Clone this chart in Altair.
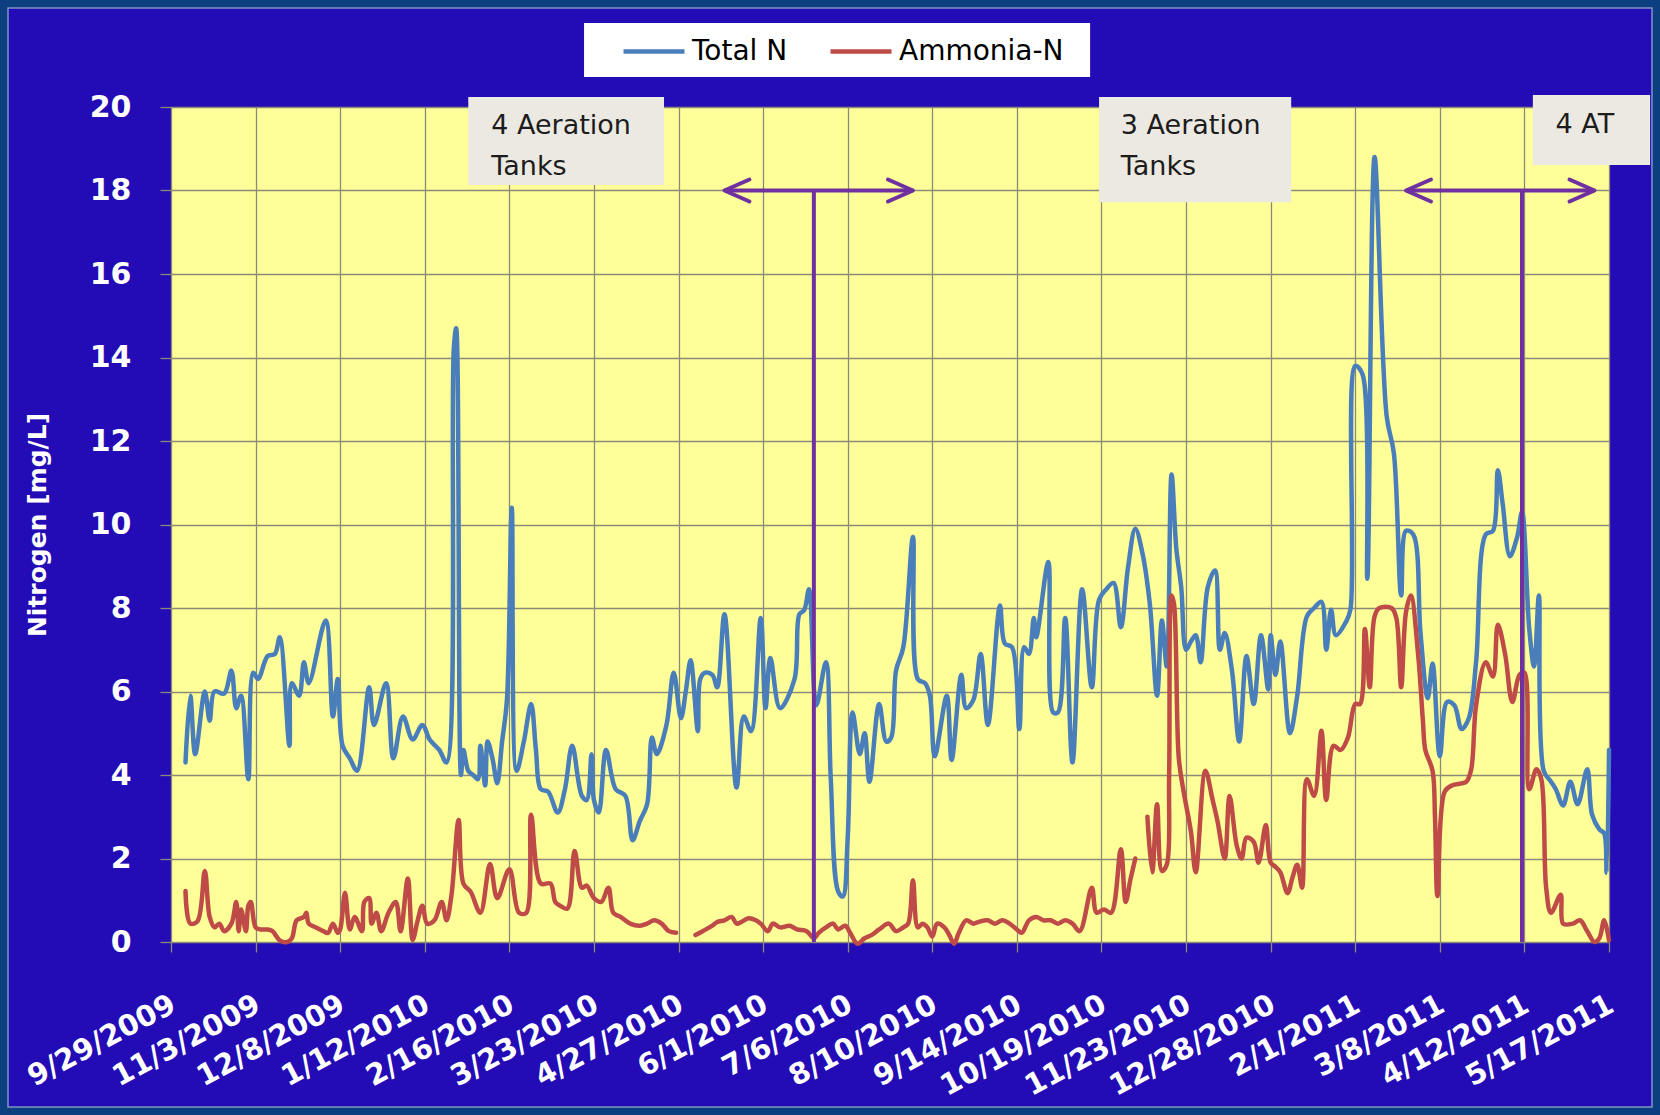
import altair as alt
import pandas as pd

# ---------------------------------------------------------------- data
START_DATE = "2009-09-29"
END_DATE = "2011-05-17"

tick_dates = ["2009-09-29", "2009-11-03", "2009-12-08", "2010-01-12", "2010-02-16",
              "2010-03-23", "2010-04-27", "2010-06-01", "2010-07-06", "2010-08-10",
              "2010-09-14", "2010-10-19", "2010-11-23", "2010-12-28", "2011-02-01",
              "2011-03-08", "2011-04-12", "2011-05-17"]
y_ticks = [0, 2, 4, 6, 8, 10, 12, 14, 16, 18, 20]

# sampling day (days after START_DATE) and concentration, mg/L
total_day = [6, 8, 10, 14, 16, 18, 22, 25, 27, 29, 32, 34, 36, 40, 43, 45, 49, 50, 53, 55,
             57, 64, 67, 69, 71, 74, 77, 82, 84, 89, 92, 96, 100, 104, 107, 111, 114, 117, 118, 120,
             121, 123, 125, 127, 128, 130, 131, 133, 135, 137, 139, 141, 143, 146, 149, 151, 153, 156, 160, 163,
             166, 170, 172, 174, 175, 177, 180, 184, 188, 191, 194, 197, 199, 201, 205, 208, 211, 213, 215, 218,
             219, 221, 224, 226, 229, 234, 237, 240, 244, 246, 248, 252, 258, 260, 262, 264, 267, 271, 273, 276,
             278, 280, 282, 285, 287, 289, 293, 296, 298, 300, 303, 307, 309, 312, 314, 316, 321, 323, 327, 329,
             332, 335, 338, 343, 345, 348, 351, 353, 355, 357, 358, 363, 365, 367, 370, 373, 377, 381, 384, 387,
             390, 393, 396, 399, 402, 405, 408, 410, 412, 414, 416, 418, 420, 422, 424, 426, 429, 432, 434, 436,
             439, 442, 445, 448, 451, 454, 455, 457, 459, 463, 466, 470, 473, 476, 478, 480, 482, 486, 488, 490,
             493, 495, 498, 503, 506, 509, 511, 514, 517, 520, 522, 525, 528, 531, 534, 537, 540, 544, 547, 549,
             551, 554, 557, 559, 562, 564, 566, 568, 571, 573, 576, 579, 582, 586, 588, 591, 593, 594, 595]
total_n = [4.3, 5.9, 4.5, 6.0, 5.3, 6.0, 5.95, 6.5, 5.6, 5.9, 3.9, 6.45, 6.3, 6.85, 6.9, 7.3, 4.7, 6.2, 5.9, 6.7,
           6.2, 7.7, 5.4, 6.3, 4.7, 4.4, 4.1, 6.1, 5.2, 6.2, 4.4, 5.4, 4.85, 5.2, 4.85, 4.6, 4.3, 14.2, 14.7, 4.0,
           4.6, 4.1, 4.0, 3.9, 4.7, 3.75, 4.8, 4.4, 3.8, 4.8, 5.8, 10.4, 4.1, 4.8, 5.7, 4.6, 3.66, 3.6, 3.1, 3.66,
           4.7, 3.5, 3.4, 4.5, 3.4, 3.1, 4.6, 3.66, 3.5, 2.44, 2.9, 3.3, 4.9, 4.5, 5.2, 6.45, 5.36, 6.0, 6.75, 5.05,
           6.3, 6.45, 6.4, 6.1, 7.85, 3.7, 5.4, 5.05, 7.76, 5.6, 6.8, 5.6, 6.3, 7.85, 7.95, 8.45, 5.67, 6.7, 3.9, 1.22,
           1.09, 2.5, 5.5, 4.5, 5.0, 3.84, 5.7, 4.8, 4.9, 6.5, 7.06, 9.7, 6.3, 6.2, 5.9, 4.45, 5.9, 4.36, 6.4, 5.6,
           5.8, 6.9, 5.2, 8.06, 7.15, 7.06, 5.1, 7.06, 6.9, 7.76, 7.3, 9.1, 5.5, 5.5, 7.76, 4.3, 8.45, 6.1, 8.2, 8.45,
           8.6, 7.54, 8.98, 9.9, 9.3, 8.1, 5.9, 7.7, 6.6, 11.2, 9.4, 8.5, 7.0, 7.2, 7.35, 6.7, 8.5, 8.9, 7.0, 7.4,
           6.5, 4.8, 6.85, 5.7, 7.35, 6.05, 7.35, 6.4, 7.2, 5.0, 5.9, 7.8, 8.0, 8.15, 7.0, 7.96, 7.35, 7.65, 7.96, 13.8,
           13.6, 8.7, 18.8, 12.6, 11.7, 8.3, 9.85, 9.76, 7.4, 5.84, 6.67, 4.45, 5.75, 5.67, 5.1, 5.36, 6.7, 9.76, 9.85, 11.3,
           10.5, 9.24, 9.7, 10.3, 7.5, 6.6, 8.3, 4.1, 3.84, 3.66, 3.27, 3.84, 3.3, 4.14, 3.05, 2.7, 2.6, 1.66, 4.6]

# None marks a period without an ammonia result (the line is broken there)
ammonia_day = [6, 8, 11, 14, 16, 18, 20, 22, 25, 27, 28, 29, 31, 32, 33, 35, 37, 40, 42, 45,
               48, 50, 52, 55, 56, 57, 60, 63, 65, 67, 69, 70, 72, 74, 76, 79, 80, 82, 83, 85,
               87, 90, 93, 95, 98, 100, 102, 104, 106, 109, 112, 114, 116, 119, 121, 124, 128, 132, 135, 140,
               144, 147, 149, 153, 157, 159, 161, 164, 167, 170, 172, 175, 178, 181, 183, 186, 190, 194, 197, 200,
               203, 206, 209, 213, 217, 220, 224, 226, 229, 232, 234, 236, 239, 242, 244, 247, 249, 252, 256, 259,
               263, 266, 268, 271, 274, 276, 279, 281, 284, 287, 290, 293, 297, 300, 303, 305, 307, 309, 311, 313,
               315, 317, 320, 322, 324, 326, 329, 332, 334, 338, 341, 344, 347, 350, 352, 355, 358, 361, 364, 367,
               370, 373, 376, 381, 383, 386, 389, 393, 395, 397, 399, 402, 404, 406, 408, 410, 412, 413, 414, 415,
               417, 419, 422, 424, 428, 431, 433, 436, 438, 441, 443, 445, 448, 450, 453, 455, 457, 459, 462, 464,
               466, 468, 470, 473, 476, 478, 481, 484, 487, 490, 492, 494, 496, 498, 500, 505, 507, 509, 511, 513,
               516, 518, 519, 522, 523, 524, 527, 530, 534, 536, 538, 540, 544, 547, 549, 552, 555, 558, 560, 562,
               565, 567, 569, 571, 575, 576, 580, 583, 586, 589, 591, 593, 595]
ammonia_n = [1.22, 0.44, 0.5, 1.7, 0.6, 0.35, 0.44, 0.26, 0.44, 0.96, 0.26, 0.78, 0.26, 0.87, 0.96, 0.35, 0.3, 0.3, 0.26, 0.04,
             0.0, 0.09, 0.52, 0.6, 0.7, 0.44, 0.35, 0.26, 0.22, 0.44, 0.22, 0.3, 1.18, 0.3, 0.6, 0.26, 0.96, 1.05, 0.44, 0.7,
             0.26, 0.7, 0.96, 0.26, 1.52, 0.05, 0.5, 0.87, 0.44, 0.52, 0.96, 0.52, 1.1, 2.92, 1.4, 1.2, 0.7, 1.87, 1.05, 1.74,
             0.7, 0.7, 3.05, 1.4, 1.4, 0.96, 0.87, 0.8, 2.18, 1.3, 1.35, 1.05, 0.96, 1.3, 0.7, 0.6, 0.44, 0.39, 0.44, 0.52,
             0.44, 0.26, 0.22, None, 0.17, 0.26, 0.39, 0.48, 0.52, 0.6, 0.44, 0.48, 0.57, 0.52, 0.44, 0.26, 0.44, 0.35, 0.39, 0.3,
             0.26, 0.09, 0.22, 0.35, 0.44, 0.3, 0.39, 0.22, -0.04, 0.09, 0.17, 0.3, 0.44, 0.26, 0.35, 0.44, 1.48, 0.35, 0.44, 0.35,
             0.13, 0.44, 0.35, 0.17, -0.04, 0.22, 0.52, 0.44, 0.48, 0.52, 0.44, 0.52, 0.44, 0.3, 0.22, 0.52, 0.6, 0.52, 0.52, 0.44,
             0.52, 0.44, 0.26, 1.3, 0.7, 0.78, 0.7, 2.22, 0.96, 1.5, 2.0, None, 3.0, 1.67, 3.3, 1.7, 1.85, 4.0, 8.3, 8.1,
             4.4, 3.6, 2.65, 1.67, 4.1, 3.4, 2.9, 2.0, 3.5, 2.3, 2.0, 2.5, 2.4, 1.9, 2.8, 1.9, 1.8, 1.67, 1.17, 1.54,
             1.85, 1.3, 3.9, 3.5, 5.06, 3.4, 4.7, 4.6, 4.9, 5.7, 5.7, 7.5, 6.1, 7.8, 8.0, 8.0, 7.76, 6.1, 7.9, 8.3,
             6.9, 5.3, 4.6, 4.1, 3.0, 1.1, 3.6, 3.75, 3.8, 3.84, 4.14, 5.67, 6.7, 6.36, 7.6, 6.9, 5.75, 6.4, 6.45, 3.66,
             4.14, 3.9, 1.3, 0.7, 1.13, 0.44, 0.44, 0.52, 0.26, 0.0, 0.09, 0.52, 0.04]

# aeration-tank configuration changes: marker day, arrow span, arrow level
change_day = [266, 559]
arrow_start = [229, 511]
arrow_end = [307, 589]
arrow_level = 18

# callout boxes: day range and value range
box_x1 = [123, 384, 563.5]
box_x2 = [204, 463.5, 612]
box_y1 = [20.24, 20.24, 20.29]
box_y2 = [18.13, 17.72, 18.61]
note_text = ["4 Aeration", "Tanks", "3 Aeration", "Tanks"]
note_day = [132.5, 132.5, 393, 393]
note_val = [19.54, 18.57, 19.54, 18.57]
short_note_text = ["4 AT"]
short_note_day = [585]
short_note_val = [19.57]

# white panel behind the series key (day range, value range)
key_x = [170.9, 380.3]
key_y = [22.01, 20.72]

# ---------------------------------------------------------------- styling
BLUE = "#4a7ebb"
RED = "#be4b48"
PURPLE = "#7030a0"
SLIDE = "#230bb5"
FRAME = "#0c3f80"
PLOT = "#ffff99"
GRID = "#8b8a78"
BOX = "#ebe9e1"
FONT = "DejaVu Sans"

PAD_L, PAD_T, W, H = 171, 107, 1438, 835
PAD_R = 1660 - PAD_L - W
PAD_B = 1115 - PAD_T - H

t0_ms = pd.Timestamp(START_DATE).value // 10**6
DAY_MS = 86_400_000


def to_ms(day):
    return int(t0_ms + round(day * DAY_MS))


end_ms = pd.Timestamp(END_DATE).value // 10**6
tick_ms = [int(pd.Timestamp(d).value // 10**6) for d in tick_dates]

# ---------------------------------------------------------------- tables
total_df = pd.DataFrame({"t": [to_ms(d) for d in total_day], "v": total_n,
                         "series": "Total N", "seg": 0})

seg, rows = 0, []
for d, v in zip(ammonia_day, ammonia_n):
    if v is None:
        seg += 1
        continue
    rows.append({"t": to_ms(d), "v": v, "series": "Ammonia-N", "seg": seg})
ammonia_df = pd.DataFrame(rows)

box_df = pd.DataFrame({"t": [to_ms(d) for d in box_x1], "t2": [to_ms(d) for d in box_x2],
                       "v": box_y1, "v2": box_y2})
key_df = pd.DataFrame({"t": [to_ms(key_x[0])], "t2": [to_ms(key_x[1])],
                       "v": [key_y[0]], "v2": [key_y[1]]})
note_df = pd.DataFrame({"t": [to_ms(d) for d in note_day], "v": note_val, "text": note_text})
short_note_df = pd.DataFrame({"t": [to_ms(d) for d in short_note_day], "v": short_note_val,
                              "text": short_note_text})
marker_df = pd.DataFrame({"t": [to_ms(d) for d in change_day], "v": 0, "v2": arrow_level})
arrow_df = pd.DataFrame({"t": [to_ms(d) for d in arrow_start], "t2": [to_ms(d) for d in arrow_end],
                         "v": arrow_level})

# ---------------------------------------------------------------- scales / axes
x_scale = alt.Scale(type="utc", domain=[int(t0_ms), int(end_ms)], nice=False)
y_scale = alt.Scale(domain=[0, 20], nice=False, zero=False)

x_axis = alt.Axis(values=tick_ms, format="%-m/%-d/%Y", title=None, domain=False,
                  grid=True, gridColor=GRID, gridWidth=1.3,
                  ticks=True, tickSize=10, tickColor=GRID, tickWidth=1.3,
                  labelAngle=-28, labelAlign="right", labelBaseline="middle",
                  labelPadding=50, labelOffset=2, labelFont=FONT, labelFontWeight="bold",
                  labelFontSize=29, labelColor="white", labelOverlap=False,
                  labelFlush=False, labelBound=False, labelLimit=400)
y_axis = alt.Axis(values=y_ticks, domain=False, grid=True, gridColor=GRID, gridWidth=1.3,
                  ticks=True, tickSize=11, tickColor=GRID, tickWidth=1.3,
                  labelFont=FONT, labelFontWeight="bold", labelFontSize=30,
                  labelColor="white", labelPadding=29,
                  title="Nitrogen [mg/L]", titleFont=FONT, titleFontWeight="bold",
                  titleFontSize=25, titleColor="white", titleX=-134, titleY=H / 2,
                  titleAngle=270, titleAlign="center", titleBaseline="middle")

X = alt.X("t:T", scale=x_scale, axis=x_axis)
Y = alt.Y("v:Q", scale=y_scale, axis=y_axis)

color = alt.Color(
    "series:N",
    scale=alt.Scale(domain=["Total N", "Ammonia-N"], range=[BLUE, RED]),
    legend=alt.Legend(title=None, orient="none", legendX=450, legendY=-88.5,
                      direction="horizontal", columns=2, padding=0,
                      symbolType="stroke", symbolSize=3721, symbolStrokeWidth=4.5,
                      symbolOffset=0, labelFont=FONT, labelFontSize=28,
                      labelColor="black", labelOffset=5, columnPadding=33,
                      labelLimit=400),
)

# ---------------------------------------------------------------- layers
# slide frame around the chart
frame = alt.Chart(pd.DataFrame({"k": [0]})).mark_rect(
    fillOpacity=0, stroke=FRAME, strokeWidth=16
).encode(x=alt.value(-PAD_L), x2=alt.value(W + PAD_R),
         y=alt.value(-PAD_T), y2=alt.value(H + PAD_B))
frame_edge = alt.Chart(pd.DataFrame({"k": [0]})).mark_rect(
    fillOpacity=0, stroke="#7f96c4", strokeWidth=1.5
).encode(x=alt.value(-PAD_L + 8), x2=alt.value(W + PAD_R - 8),
         y=alt.value(-PAD_T + 8), y2=alt.value(H + PAD_B - 8))

line_style = dict(strokeWidth=4.5, interpolate="catmull-rom", strokeJoin="round", strokeCap="round")

total_line = alt.Chart(total_df).mark_line(**line_style).encode(
    x=X, y=Y, color=color, detail="seg:N",
)
ammonia_line = alt.Chart(ammonia_df).mark_line(**line_style).encode(
    x=X, y=Y, color=color, detail="seg:N",
)

key_panel = alt.Chart(key_df).mark_rect(color="white").encode(x=X, x2="t2:T", y=Y, y2="v2:Q")
boxes = alt.Chart(box_df).mark_rect(color=BOX).encode(x=X, x2="t2:T", y=Y, y2="v2:Q")
notes = alt.Chart(note_df).mark_text(
    align="left", baseline="middle", font=FONT, fontSize=27, color="#1c1c1c"
).encode(x=X, y=Y, text="text:N")
short_notes = alt.Chart(short_note_df).mark_text(
    align="center", baseline="middle", font=FONT, fontSize=27, color="#1c1c1c"
).encode(x=X, y=Y, text="text:N")

markers = alt.Chart(marker_df).mark_rule(color=PURPLE, strokeWidth=4).encode(
    x=X, y=Y, y2="v2:Q",
)
spans = alt.Chart(arrow_df).mark_rule(color=PURPLE, strokeWidth=4).encode(
    x=X, x2="t2:T", y=Y,
)
head_left = alt.Chart(arrow_df).mark_point(
    shape="M 1 -0.44 L 0 0 L 1 0.44", size=2500, filled=False, opacity=1,
    color=PURPLE, strokeWidth=4, strokeCap="round", strokeJoin="round"
).encode(x=X, y=Y)
head_right = alt.Chart(arrow_df).mark_point(
    shape="M -1 -0.44 L 0 0 L -1 0.44", size=2500, filled=False, opacity=1,
    color=PURPLE, strokeWidth=4, strokeCap="round", strokeJoin="round"
).encode(x=alt.X("t2:T", scale=x_scale, axis=x_axis), y=Y)

chart = alt.layer(
    total_line, ammonia_line, frame, frame_edge, key_panel, boxes, notes, short_notes,
    markers, spans, head_left, head_right,
).properties(
    width=W, height=H, autosize=alt.AutoSizeParams(type="none"),
    padding={"left": PAD_L, "top": PAD_T, "right": PAD_R, "bottom": PAD_B},
    background=SLIDE,
).configure_view(fill=PLOT, stroke=None)

chart.save("out.html", embed_options={"renderer": "svg", "actions": False})
